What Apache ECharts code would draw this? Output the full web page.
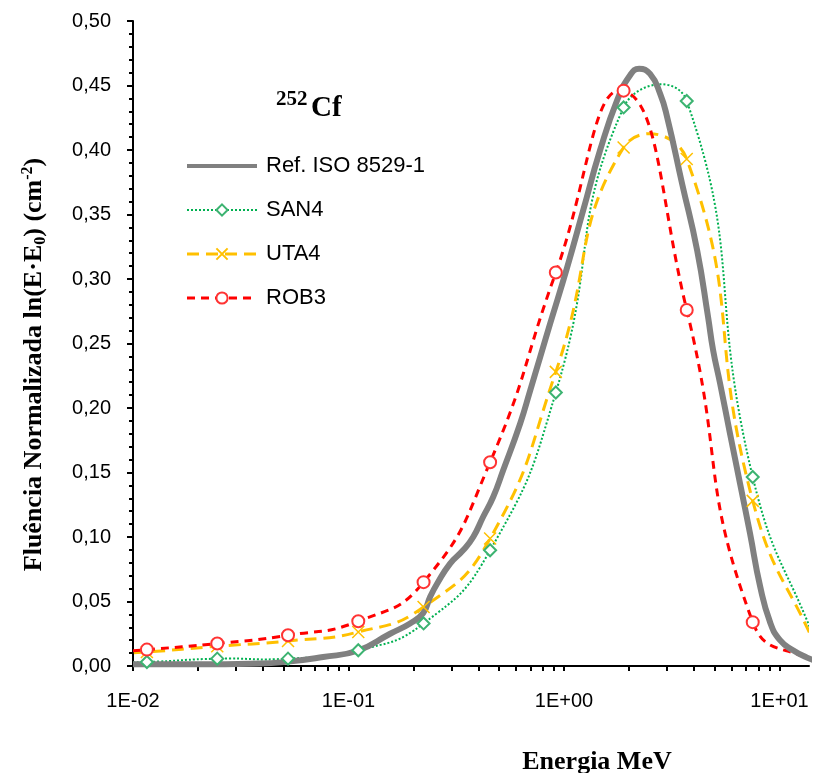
<!DOCTYPE html>
<html>
<head>
<meta charset="utf-8">
<script src="https://cdn.jsdelivr.net/npm/echarts@6/dist/echarts.min.js"></script>
<style>html,body{margin:0;padding:0;background:#fff}#chart{width:813px;height:773px}</style>
</head>
<body>
<div id="chart"></div>
<script>
// Reference spectrum (ISO 8529-1), energies in MeV
const refEnergy = [0.0100, 0.0205, 0.0350, 0.0498, 0.0763, 0.111, 0.156, 0.193, 0.222, 0.239, 0.258, 0.296, 0.340, 0.379, 0.421, 0.469, 0.522, 0.626, 0.697, 0.775, 0.862, 1.034, 1.226, 1.470, 1.763, 2.026, 2.230, 2.508, 2.791, 3.008, 3.530, 4.149, 4.660, 4.916, 5.299, 5.894, 6.559, 7.299, 8.121, 9.037, 10.05, 11.55, 13.42, 14.72];
const refFluence = [0.0013, 0.0013, 0.0018, 0.0030, 0.0070, 0.0120, 0.0250, 0.0330, 0.0410, 0.0535, 0.0639, 0.0794, 0.0897, 0.1000, 0.1155, 0.1310, 0.1517, 0.1880, 0.2137, 0.2395, 0.2654, 0.3090, 0.3530, 0.3998, 0.4385, 0.4580, 0.4630, 0.4590, 0.4437, 0.4256, 0.3740, 0.3220, 0.2705, 0.2450, 0.2190, 0.1800, 0.1414, 0.1026, 0.0620, 0.0340, 0.0200, 0.0122, 0.0065, 0.0040];

// Unfolded spectra energies (MeV) – first and last points lie outside the visible axis range
const markerEnergy = [0.0055, 0.0116, 0.0246, 0.0524, 0.111, 0.223, 0.454, 0.916, 1.89, 3.71, 7.51, 15.0];
const san4 = [0.0020, 0.0031, 0.0057, 0.0057, 0.0122, 0.0330, 0.0897, 0.2120, 0.4330, 0.4380, 0.1465, 0.0150];
const uta4 = [0.0080, 0.0109, 0.0153, 0.0194, 0.0264, 0.0457, 0.0988, 0.2280, 0.4020, 0.3930, 0.1280, 0.0120];
const rob3 = [0.0085, 0.0127, 0.0174, 0.0238, 0.0347, 0.0650, 0.1580, 0.3050, 0.4460, 0.2760, 0.0340, 0.0015];

const seriesNames = ['Ref. ISO 8529-1', 'SAN4', 'UTA4', 'ROB3'];
const xTickValues = [0.01, 0.1, 1, 10];
const xTickLabels = ['1E-02', '1E-01', '1E+00', '1E+01'];
const xMinorTickValues = [0.02,0.03,0.04,0.05,0.06,0.07,0.08,0.09,0.2,0.3,0.4,0.5,0.6,0.7,0.8,0.9,2,3,4,5,6,7,8,9];
const yTickLabels = ['0,00','0,05','0,10','0,15','0,20','0,25','0,30','0,35','0,40','0,45','0,50'];

const sans = '"Liberation Sans", Arial, sans-serif';
const serif = '"Liberation Serif", "Times New Roman", serif';

const styles = {
  SAN4: {color: '#00B050', mark: '#3CB371', width: 2, dash: [2, 2], symbol: 'emptyDiamond'},
  UTA4: {color: '#FFC000', mark: '#FFC000', width: 3, dash: [12, 7], symbol: 'path://M0,0L10,10M10,0L0,10'},
  ROB3: {color: '#FF0000', mark: '#FF3333', width: 3, dash: [8, 6], symbol: 'emptyCircle'}
};

const pairs = (xs, ys) => xs.map((x, i) => [x, ys[i]]);

// Spreadsheet-like smoothed curve through pixel points (no control-point clamping)
function smoothPathData(pts, smooth) {
  const n = pts.length, cps = [];
  for (let i = 0; i < n; i++) {
    const p = pts[i], pr = pts[i - 1] || p, nx = pts[i + 1] || p;
    const vx = nx[0] - pr[0], vy = nx[1] - pr[1];
    const d0 = Math.hypot(p[0] - pr[0], p[1] - pr[1]);
    const d1 = Math.hypot(nx[0] - p[0], nx[1] - p[1]);
    const r = (d0 + d1) > 0 ? d1 / (d0 + d1) : 0.5;
    cps.push({
      a: [p[0] - vx * smooth * (1 - r), p[1] - vy * smooth * (1 - r)],
      b: [p[0] + vx * smooth * r, p[1] + vy * smooth * r]
    });
  }
  let d = 'M' + pts[0][0].toFixed(2) + ' ' + pts[0][1].toFixed(2);
  for (let i = 0; i < n - 1; i++) {
    d += ' C' + cps[i].b[0].toFixed(2) + ' ' + cps[i].b[1].toFixed(2) + ' ' +
         cps[i + 1].a[0].toFixed(2) + ' ' + cps[i + 1].a[1].toFixed(2) + ' ' +
         pts[i + 1][0].toFixed(2) + ' ' + pts[i + 1][1].toFixed(2);
  }
  return d;
}

function curveSeries(name, values) {
  const s = styles[name];
  return {
    name: name + ' curve', type: 'custom', clip: true, silent: true,
    encode: {x: 0, y: 1},
    data: pairs(markerEnergy, values),
    renderItem: function (params, api) {
      if (params.dataIndex !== 0) return null;
      const pts = markerEnergy.map((e, i) => api.coord([e, values[i]]));
      return {
        type: 'path',
        shape: {pathData: smoothPathData(pts, 0.5)},
        style: {fill: 'none', stroke: s.color, lineWidth: s.width, lineDash: s.dash}
      };
    }
  };
}

function markerSeries(name, values) {
  const s = styles[name];
  return {
    name: name, type: 'line', symbol: s.symbol, symbolSize: 12, showAllSymbol: true,
    data: pairs(markerEnergy, values),
    lineStyle: {color: s.color, width: s.width, type: s.dash, opacity: 0},
    itemStyle: {color: name === 'UTA4' ? 'rgba(0,0,0,0)' : s.mark, borderColor: s.mark, borderWidth: 1.5}
  };
}

const legendData = [
  {name: seriesNames[0], itemStyle: {opacity: 0}, lineStyle: {opacity: 1, color: '#808080', width: 4}},
  {name: 'SAN4', lineStyle: {opacity: 1, color: styles.SAN4.color, width: 2, type: styles.SAN4.dash}},
  {name: 'UTA4', lineStyle: {opacity: 1, color: styles.UTA4.color, width: 3, type: styles.UTA4.dash}},
  {name: 'ROB3', lineStyle: {opacity: 1, color: styles.ROB3.color, width: 3, type: styles.ROB3.dash}}
];

const chart = echarts.init(document.getElementById('chart'), null, {renderer: 'canvas'});
chart.setOption({
  animation: false,
  backgroundColor: '#fff',
  grid: {left: 133, right: 4, top: 21, bottom: 107, containLabel: false, outerBoundsMode: 'none'},
  legend: {
    orient: 'vertical', left: 185, top: 155, padding: 0,
    itemWidth: 70, itemHeight: 14, itemGap: 22,
    textStyle: {fontSize: 22, fontFamily: sans, color: '#000', lineHeight: 22, padding: [0, 0, 0, 4]},
    data: legendData
  },
  xAxis: {
    type: 'log', logBase: 10, min: 0.01, max: 13.7,
    name: 'Energia MeV', nameLocation: 'middle', nameGap: 83,
    nameTextStyle: {fontFamily: serif, fontWeight: 'bold', fontSize: 26, color: '#000', padding: [0, 0, 0, 252]},
    axisLine: {show: true, lineStyle: {color: '#000', width: 2}},
    axisTick: {show: true, length: 5, inside: false, lineStyle: {color: '#000', width: 2},
      customValues: xTickValues.concat(xMinorTickValues)},
    axisLabel: {show: true, margin: 25, fontSize: 20, fontFamily: sans, color: '#000',
      customValues: xTickValues,
      formatter: function (v) {
        const i = xTickValues.findIndex(t => Math.abs(t - v) / t < 1e-6);
        return i >= 0 ? xTickLabels[i] : '';
      }},
    splitLine: {show: false}, minorTick: {show: false}, minorSplitLine: {show: false}
  },
  yAxis: {
    type: 'value', min: 0, max: 0.5, interval: 0.05,
    name: '{t|Fluência Normalizada ln(E·E}{sub|0}{t|) (cm}{sup|-2}{t|)}',
    nameLocation: 'middle', nameRotate: 90, nameGap: 84,
    nameTextStyle: {
      padding: [0, 42, 0, 0],
      rich: {
        t: {fontFamily: serif, fontWeight: 'bold', fontSize: 26, color: '#000', lineHeight: 29},
        sub: {fontFamily: serif, fontWeight: 'bold', fontSize: 16, color: '#000', verticalAlign: 'bottom', lineHeight: 29},
        sup: {fontFamily: serif, fontWeight: 'bold', fontSize: 16, color: '#000', verticalAlign: 'top', lineHeight: 29}
      }
    },
    axisLine: {show: true, lineStyle: {color: '#000', width: 2}},
    axisTick: {show: true, length: 6, inside: false, lineStyle: {color: '#000', width: 2}},
    minorTick: {show: true, splitNumber: 5, length: 4, lineStyle: {color: '#000', width: 2}},
    axisLabel: {margin: 22, fontSize: 20, fontFamily: sans, color: '#000',
      formatter: function (v) { return yTickLabels[Math.round(v / 0.05)]; }},
    splitLine: {show: false}
  },
  graphic: [
    {type: 'text', x: 276, y: 110, style: {text: '252', font: 'bold 21px ' + serif, fill: '#000', verticalAlign: 'bottom', align: 'left'}},
    {type: 'text', x: 311, y: 123, style: {text: 'Cf', font: 'bold 29px ' + serif, fill: '#000', verticalAlign: 'bottom', align: 'left'}}
  ],
  series: [
    {
      name: seriesNames[0], type: 'line', smooth: true, symbol: 'none',
      data: pairs(refEnergy, refFluence),
      lineStyle: {color: '#808080', width: 6}, itemStyle: {color: '#808080'}
    },
    curveSeries('SAN4', san4),
    curveSeries('UTA4', uta4),
    curveSeries('ROB3', rob3),
    markerSeries('SAN4', san4),
    markerSeries('UTA4', uta4),
    markerSeries('ROB3', rob3)
  ]
});
</script>
</body>
</html>
